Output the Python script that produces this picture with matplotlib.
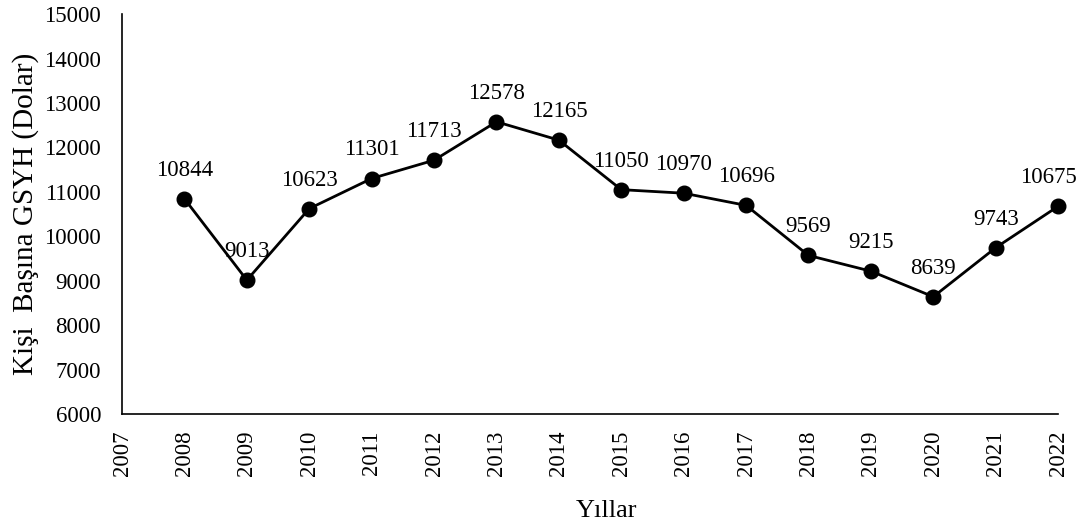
import matplotlib.pyplot as plt

plt.rcParams['font.family'] = ['Liberation Serif', 'DejaVu Serif']

years = [2008, 2009, 2010, 2011, 2012, 2013, 2014, 2015, 2016, 2017, 2018, 2019, 2020, 2021, 2022]
gdp = [10844, 9013, 10623, 11301, 11713, 12578, 12165, 11050, 10970, 10696, 9569, 9215, 8639, 9743, 10675]
xticks = list(range(2007, 2023))
yticks = list(range(6000, 15001, 1000))

fig = plt.figure(figsize=(10.83, 5.26), dpi=100)
ax = fig.add_axes([0.1127, 0.213, 0.8643, 0.760])

ax.plot(years, gdp, color='black', linewidth=2, marker='o', markersize=10.5,
        zorder=3, clip_on=False)

#data labels above each point (last one nudged left to stay inside the figure)
for i, (x, y) in enumerate(zip(years, gdp)):
    dx = -7 if i == len(years) - 1 else 0
    ax.annotate(str(y), (x, y), xytext=(dx, 13), textcoords='offset points',
                ha='center', va='bottom', fontsize=16.5)

ax.set_xlim(2007, 2022)
ax.set_ylim(6000, 15000)
ax.set_xticks(xticks)
ax.set_xticklabels([str(t) for t in xticks], rotation=90)
ax.set_yticks(yticks)
ax.tick_params(axis='both', length=0, labelsize=16.5)
ax.tick_params(axis='y', pad=15)
ax.tick_params(axis='x', pad=12)

ax.spines['top'].set_visible(False)
ax.spines['right'].set_visible(False)
ax.spines['left'].set_linewidth(1.2)
ax.spines['bottom'].set_linewidth(1.2)

ax.set_xlabel('Yıllar', fontsize=19, labelpad=17, x=0.518)
ax.set_ylabel('Kişi  Başına GSYH (Dolar)', fontsize=21, labelpad=4)

fig.savefig('out.png', dpi=100)
